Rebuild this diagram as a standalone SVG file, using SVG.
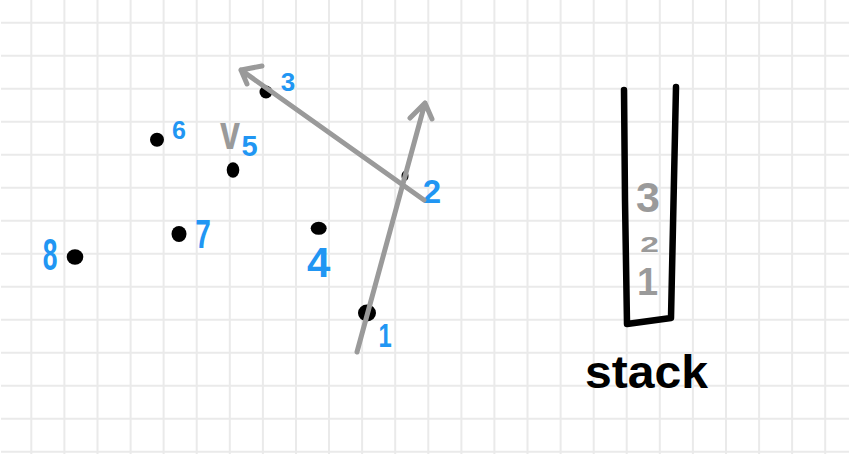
<svg xmlns="http://www.w3.org/2000/svg" width="849" height="454" viewBox="0 0 849 454">
<style>
.grid{fill:none;stroke:#eaeaea;stroke-width:2}
.dot{fill:#000}
.lbl{font-family:"Liberation Sans","DejaVu Sans",sans-serif;font-weight:bold;fill:#2196f3;text-anchor:middle}
.glbl{font-family:"Liberation Sans","DejaVu Sans",sans-serif;font-weight:bold;fill:#9a9a9a;text-anchor:middle}
.edge{fill:none;stroke:#9a9a9a;stroke-width:5;stroke-linecap:round;stroke-linejoin:round}
.stack{fill:none;stroke:#000;stroke-width:6.5;stroke-linecap:round;stroke-linejoin:round}
</style>
<rect width="849" height="454" fill="#fff"/>
<path class="grid" d="M31.3 0V454M64.4 0V454M97.5 0V454M130.6 0V454M163.6 0V454M196.7 0V454M229.8 0V454M262.9 0V454M296 0V454M329 0V454M362.1 0V454M395.2 0V454M428.3 0V454M461.4 0V454M494.4 0V454M527.5 0V454M560.6 0V454M593.7 0V454M626.7 0V454M659.8 0V454M692.9 0V454M726 0V454M759.1 0V454M792.1 0V454M825.2 0V454M1 22.7H849M1 55.7H849M1 88.7H849M1 121.7H849M1 154.7H849M1 187.7H849M1 220.7H849M1 253.7H849M1 286.7H849M1 319.7H849M1 352.7H849M1 385.7H849M1 418.7H849M1 451.7H849"/>
<g id="node1"><ellipse class="dot" cx="367" cy="313" rx="9" ry="8.5"/><text class="lbl" transform="translate(385,347) scale(0.7,1)" font-size="34">1</text></g>
<g id="node2"><ellipse class="dot" cx="405" cy="176" rx="3.5" ry="5"/><text class="lbl" x="432" y="203" font-size="33">2</text></g>
<g id="node3"><ellipse class="dot" cx="266" cy="92" rx="6.5" ry="6.5"/><text class="lbl" x="288" y="91" font-size="26">3</text></g>
<g id="node4"><ellipse class="dot" cx="318.7" cy="228.3" rx="8" ry="6.5"/><text class="lbl" x="318.7" y="277" font-size="42">4</text></g>
<g id="node5"><ellipse class="dot" cx="233" cy="170" rx="6.3" ry="7.7"/><text class="glbl" transform="translate(230,149) scale(1,1.35)" font-size="36">v</text><text class="lbl" x="249.5" y="156" font-size="29">5</text></g>
<g id="node6"><ellipse class="dot" cx="157" cy="139.7" rx="7" ry="7"/><text class="lbl" x="179" y="139" font-size="25">6</text></g>
<g id="node7"><ellipse class="dot" cx="179" cy="234" rx="7.5" ry="8"/><text class="lbl" transform="translate(203,248) scale(0.7,1)" font-size="40">7</text></g>
<g id="node8"><ellipse class="dot" cx="75" cy="257" rx="8.3" ry="7.8"/><text class="lbl" transform="translate(50,270) scale(0.6,1)" font-size="44">8</text></g>
<g id="connectors">
<path class="edge" d="M424 200L241 70M262 66L241 70L247 84"/>
<path class="edge" d="M357 352L425 103M410 118L425 103L432 119"/>
</g>
<g id="stack">
<path class="stack" d="M624 90L625 200L627 324L671 318L676 87"/>
<text class="glbl" x="648" y="212" font-size="43">3</text>
<text class="glbl" transform="translate(649.5,252) scale(1.4,0.95)" font-size="24">2</text>
<text class="glbl" x="647.5" y="295" font-size="38">1</text>
<text x="585" y="388" font-family="Liberation Sans,DejaVu Sans,sans-serif" font-weight="bold" font-size="46" textLength="123" lengthAdjust="spacingAndGlyphs" fill="#000">stack</text>
</g>
</svg>
